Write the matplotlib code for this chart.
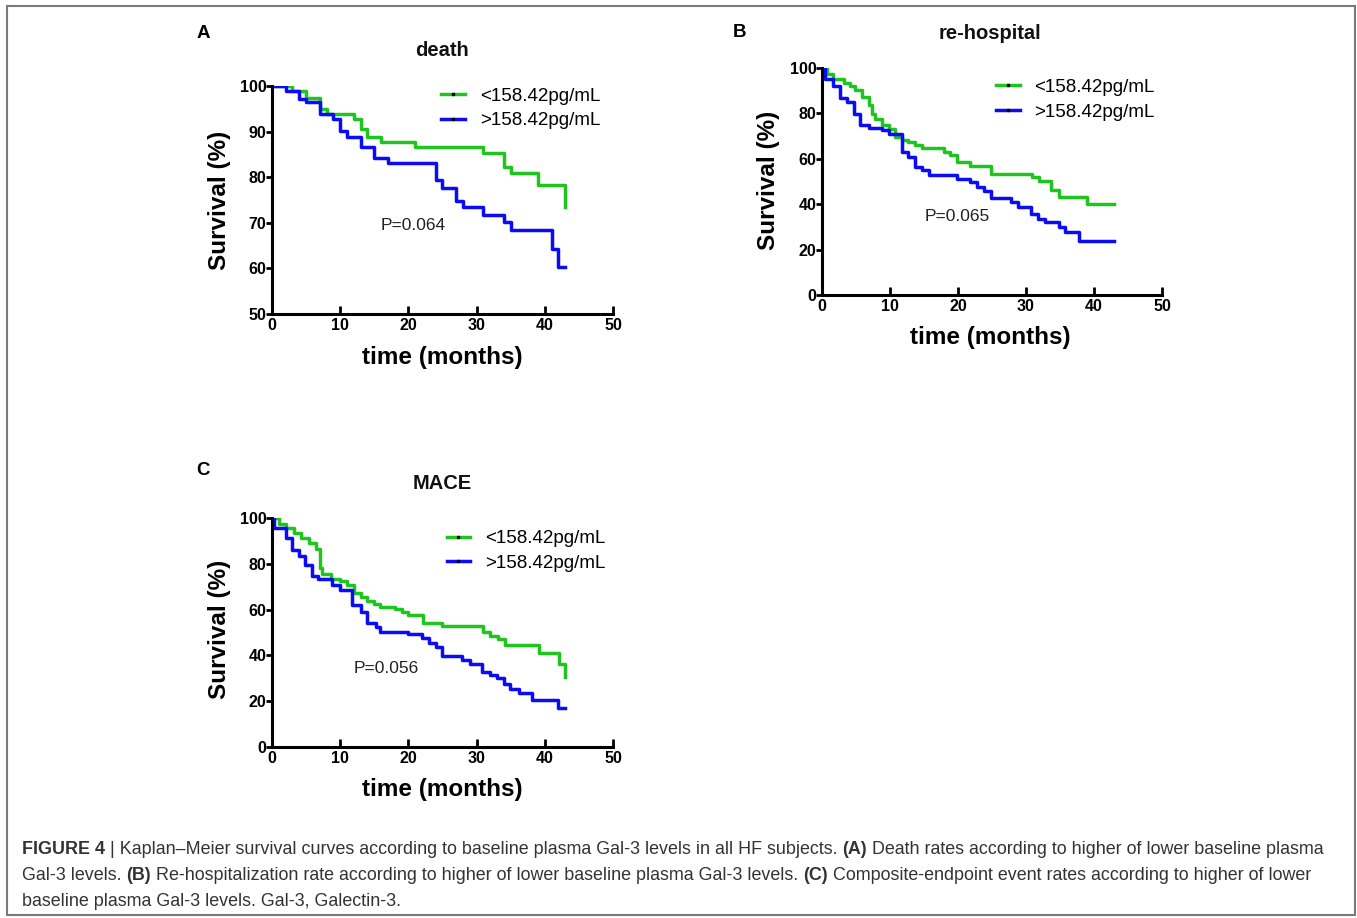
import numpy as np
import matplotlib
matplotlib.use('Agg')
import matplotlib.pyplot as plt
from matplotlib.patches import Rectangle
from matplotlib.lines import Line2D

plt.rcParams['font.family'] = ['Liberation Sans', 'DejaVu Sans']

# Kaplan-Meier step data (months, survival %)
death_low_t = [0, 3, 5, 7, 8, 12, 13, 14, 16, 21, 31, 34, 35, 39, 43]
death_low_s = [100, 98.9, 97.4, 94.9, 93.8, 92.7, 90.5, 88.8, 87.8, 86.6, 85.3, 82.3, 80.9, 78.2, 73.4]
death_high_t = [0, 2, 4, 5, 7, 9, 10, 11, 13, 15, 17, 24, 25, 27, 28, 31, 34, 35, 41, 42, 43]
death_high_s = [100, 98.8, 97.2, 96.4, 93.8, 92.8, 90.1, 88.7, 86.6, 84.1, 83.0, 79.3, 77.7, 74.8, 73.4,
                71.7, 70.1, 68.4, 64.2, 60.2, 60.2]

hosp_low_t = [0, 0.7, 1.7, 3.2, 4.1, 4.9, 5.9, 6.9, 7.4, 7.8, 8.8, 9.8, 10.8, 11.8, 12.7, 13.7, 14.7,
              17.9, 18.9, 19.9, 21.8, 24.8, 30.9, 31.9, 33.7, 34.8, 38.9, 43]
hosp_low_s = [100, 97.5, 95.3, 93.5, 92.1, 90.2, 87.2, 83.6, 79.9, 77.7, 74.8, 73.3, 69.6, 68.2, 67.2,
              66.0, 64.8, 63.0, 61.9, 58.4, 56.7, 53.4, 51.9, 50.1, 46.2, 43.0, 40.0, 40.0]
hosp_high_t = [0, 0.5, 1.7, 2.7, 3.7, 4.7, 5.6, 6.9, 8.8, 9.8, 11.8, 12.7, 13.7, 14.7, 15.8, 19.9, 21.8,
               22.8, 23.8, 24.8, 27.8, 28.8, 30.8, 31.8, 32.8, 34.8, 35.8, 37.8, 43]
hosp_high_s = [100, 95.3, 92.1, 87.0, 85.0, 79.9, 74.8, 73.6, 72.6, 70.8, 63.0, 60.9, 56.5, 55.0, 52.8,
               51.3, 49.9, 47.7, 45.7, 42.8, 41.1, 38.9, 35.9, 33.7, 32.0, 30.1, 27.9, 23.9, 23.9]

mace_low_t = [0, 1, 2, 3.2, 4.2, 5.4, 6.4, 7.1, 7.3, 8.6, 10, 11, 12, 13, 13.9, 14.9, 15.9, 18.1, 19.1,
              20, 22.2, 24.9, 31, 32, 33.2, 34.2, 39.1, 42.1, 43]
mace_low_s = [100, 97.5, 95.6, 93.4, 91.2, 89.0, 86.4, 78.1, 75.6, 73.5, 72.3, 70.8, 67.2, 65.4, 63.8,
              62.5, 61.3, 60.1, 59.1, 57.7, 54.0, 52.8, 50.4, 48.6, 47.0, 44.5, 40.9, 36.2, 30.7]
mace_high_t = [0, 0.3, 2, 2.9, 3.9, 4.9, 5.9, 6.8, 8.8, 10, 11.7, 13, 13.9, 15.2, 15.9, 20, 22, 23, 24,
               24.9, 27.9, 29.1, 30.8, 32, 33, 34, 34.9, 36.2, 38.1, 42, 43]
mace_high_s = [100, 95.6, 91.2, 86.1, 83.2, 79.6, 74.5, 73.3, 70.8, 68.6, 62.0, 59.1, 54.3, 52.6, 50.4,
               49.3, 47.4, 45.3, 43.8, 39.7, 38.0, 36.2, 32.8, 31.4, 29.9, 27.7, 25.5, 23.6, 20.4, 17.2, 17.2]

labels = ['<158.42pg/mL', '>158.42pg/mL']
green = '#1fc41f'
blue = '#0b0bf5'

fig = plt.figure(figsize=(13.57, 9.18), dpi=100)


def km_panel(rect, low_t, low_s, high_t, high_s, ylim, yticks, leg_xy, p_text, p_xy):
    ax = fig.add_axes(rect)
    ax.step(low_t, low_s, where='post', color=green, lw=2.5)
    ax.step(high_t, high_s, where='post', color=blue, lw=2.5)
    ax.set_xlim(0, 50)
    ax.set_ylim(*ylim)
    ax.set_xticks([0, 10, 20, 30, 40, 50])
    ax.set_yticks(yticks)
    for s in ['top', 'right']:
        ax.spines[s].set_visible(False)
    for s in ['left', 'bottom']:
        ax.spines[s].set_linewidth(2.2)
    ax.tick_params(axis='x', direction='in', length=6, width=2, pad=3, labelsize=11.5)
    ax.tick_params(axis='y', direction='out', length=4, width=2, pad=0, labelsize=11.5)
    for t in ax.get_xticklabels() + ax.get_yticklabels():
        t.set_fontweight('bold')
    handles = [Line2D([], [], color=c, lw=2.5, marker='s', markersize=1.6,
                      markerfacecolor='k', markeredgecolor='k') for c in (green, blue)]
    ax.legend(handles, labels, loc='upper left', bbox_to_anchor=leg_xy, frameon=False, fontsize=13.5,
              handlelength=1.25, handletextpad=0.8, labelspacing=0.4, borderaxespad=0, numpoints=1)
    ax.text(p_xy[0], p_xy[1], p_text, transform=ax.transAxes, fontsize=12.5,
            ha='center', va='center', color='#222222')
    return ax


km_panel([0.2004, 0.658, 0.2513, 0.2484], death_low_t, death_low_s, death_high_t, death_high_s,
         (50, 100), [50, 60, 70, 80, 90, 100], (0.475, 1.025), 'P=0.064', (0.413, 0.386))
km_panel([0.6057, 0.6786, 0.2506, 0.2473], hosp_low_t, hosp_low_s, hosp_high_t, hosp_high_s,
         (0, 100), [0, 20, 40, 60, 80, 100], (0.49, 0.985), 'P=0.065', (0.397, 0.344))
km_panel([0.2004, 0.1863, 0.2513, 0.2495], mace_low_t, mace_low_s, mace_high_t, mace_high_s,
         (0, 100), [0, 20, 40, 60, 80, 100], (0.49, 0.98), 'P=0.056', (0.334, 0.341))

# titles, panel letters and axis labels
titles = [('death', 0.3257, 0.9455), ('re-hospital', 0.7296, 0.964), ('MACE', 0.3257, 0.4728)]
for txt, x, y in titles:
    fig.text(x, y, txt, ha='center', va='center', fontsize=14.5, fontweight='bold', color='#111111')
for txt, x, y in [('A', 0.1496, 0.964), ('B', 0.5453, 0.965), ('C', 0.1496, 0.488)]:
    fig.text(x, y, txt, ha='center', va='center', fontsize=13.5, fontweight='bold')
for x, y in [(0.162, 0.782), (0.566, 0.804), (0.162, 0.314)]:
    fig.text(x, y, 'Survival (%)', ha='center', va='center', rotation=90, fontsize=17.5, fontweight='bold')
for x, y in [(0.3257, 0.611), (0.7296, 0.632), (0.3257, 0.1405)]:
    fig.text(x, y, 'time (months)', ha='center', va='center', fontsize=17.5, fontweight='bold')

# caption with bold pieces
renderer = fig.canvas.get_renderer()
cap_lines = [
    [('FIGURE 4', True), (' | Kaplan\u2013Meier survival curves according to baseline plasma Gal-3 levels in all HF subjects. ', False),
     ('(A)', True), (' Death rates according to higher of lower baseline plasma', False)],
    [('Gal-3 levels. ', False), ('(B)', True),
     (' Re-hospitalization rate according to higher of lower baseline plasma Gal-3 levels. ', False),
     ('(C)', True), (' Composite-endpoint event rates according to higher of lower', False)],
    [('baseline plasma Gal-3 levels. Gal-3, Galectin-3.', False)],
]
cap_y = [1 - 850 / 918, 1 - 876 / 918, 1 - 901 / 918]
for parts, y in zip(cap_lines, cap_y):
    x = 22 / 1357
    for txt, bold in parts:
        t = fig.text(x, y, txt, fontsize=12.9, fontweight='bold' if bold else 'normal',
                     va='center', ha='left', color='#333333')
        bb = t.get_window_extent(renderer=renderer)
        x += bb.width / fig.bbox.width

# frame around the whole figure
fig.add_artist(Rectangle((7 / 1357, 3 / 918), 1348 / 1357, 909 / 918, transform=fig.transFigure,
                         fill=False, edgecolor='#7a7a7a', lw=1.5))

fig.savefig('out.png', dpi=100)
